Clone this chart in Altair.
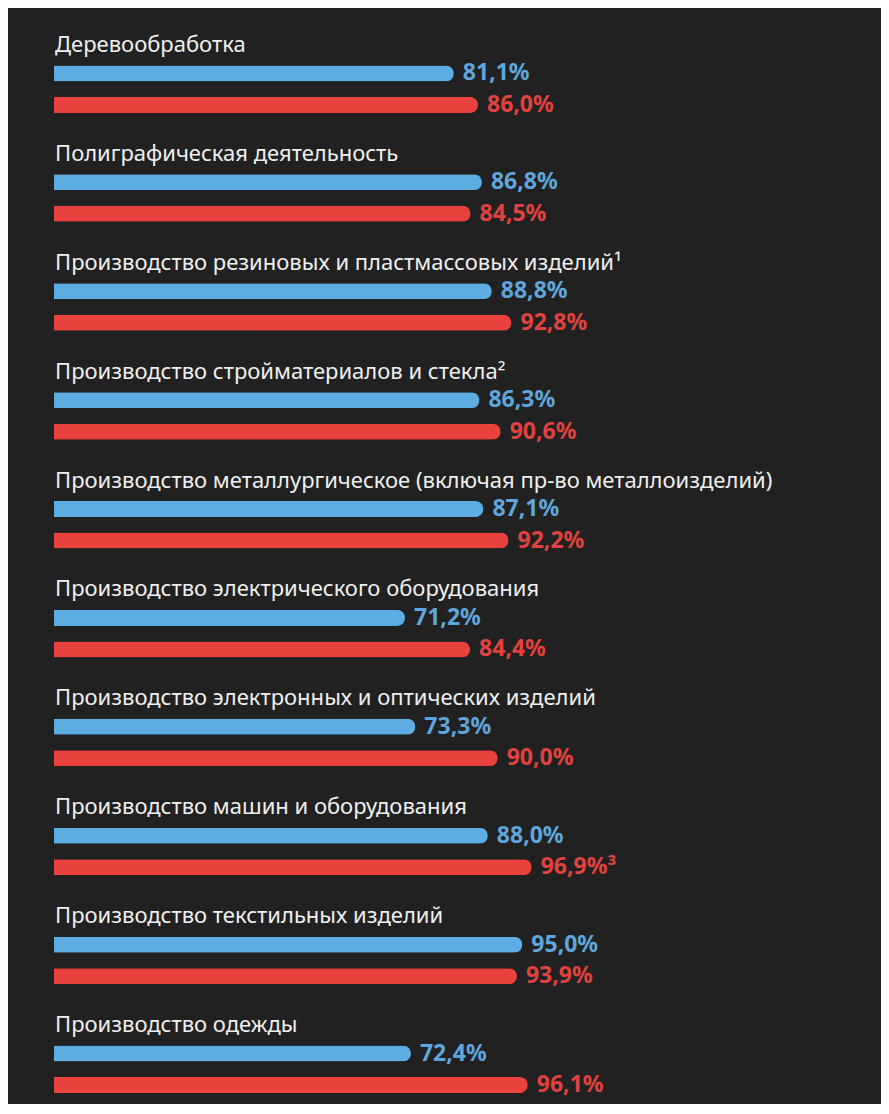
import altair as alt
import pandas as pd

categories = [
    "Деревообработка",
    "Полиграфическая деятельность",
    "Производство резиновых и пластмассовых изделий¹",
    "Производство стройматериалов и стекла²",
    "Производство металлургическое (включая пр-во металлоизделий)",
    "Производство электрического оборудования",
    "Производство электронных и оптических изделий",
    "Производство машин и оборудования",
    "Производство текстильных изделий",
    "Производство одежды",
]
blue_values = [81.1, 86.8, 88.8, 86.3, 87.1, 71.2, 73.3, 88.0, 95.0, 72.4]
red_values = [86.0, 84.5, 92.8, 90.6, 92.2, 84.4, 90.0, 96.9, 93.9, 96.1]
red_notes = ["", "", "", "", "", "", "", "³", "", ""]
blue_notes = [""] * len(categories)

rows = []
for c, v, n in zip(categories, blue_values, blue_notes):
    rows.append({"category": c, "series": "blue", "value": v, "note": n})
for c, v, n in zip(categories, red_values, red_notes):
    rows.append({"category": c, "series": "red", "value": v, "note": n})
df = pd.DataFrame(rows)
cat_df = pd.DataFrame({"category": categories})

BG = "#212121"
BLUE_BAR = "#5dade2"
RED_BAR = "#e8413e"
BLUE_TXT = "#5ea6db"
RED_TXT = "#e2423f"
FONT = "Noto Sans"

y_enc = alt.Y("category:N", sort=categories, axis=None,
              scale=alt.Scale(paddingInner=0, paddingOuter=0))
x_scale = alt.Scale(domain=[0, 100], nice=False, zero=True)

base = alt.Chart(df).transform_calculate(
    label="replace(format(datum.value, '.1f'), '.', ',') + '%' + datum.note"
)

titles = alt.Chart(cat_df).mark_text(
    align="left", baseline="alphabetic", dx=1, yOffset=-10.5,
    font=FONT, fontSize=22, color="#f0f0f0"
).encode(
    x=alt.datum(0, type="quantitative", scale=x_scale, axis=None),
    y=y_enc,
    text="category:N",
)

def series_layers(series, bar_color, txt_color, offset):
    b = base.transform_filter(alt.datum.series == series)
    bar = b.mark_bar(size=16, cornerRadiusEnd=8, yOffset=offset, color=bar_color).encode(
        x=alt.X("value:Q", scale=x_scale, axis=None),
        y=y_enc,
    )
    txt = b.mark_text(
        align="left", baseline="middle", dx=9, yOffset=offset,
        font=FONT, fontSize=23, fontWeight="bold", color=txt_color
    ).encode(
        x=alt.X("value:Q", scale=x_scale, axis=None),
        y=y_enc,
        text="label:N",
    )
    return [bar, txt]

layers = [titles] + series_layers("blue", BLUE_BAR, BLUE_TXT, 11) + series_layers("red", RED_BAR, RED_TXT, 42.5)

chart = alt.layer(*layers).properties(
    width=493,
    height=1089,
    background=BG,
    padding={"left": 46, "top": 0, "right": 334, "bottom": 7},
    autosize=alt.AutoSizeParams(type="none"),
).configure_view(stroke=None)

chart.save("out.html", embed_options={"renderer": "svg", "actions": False})
